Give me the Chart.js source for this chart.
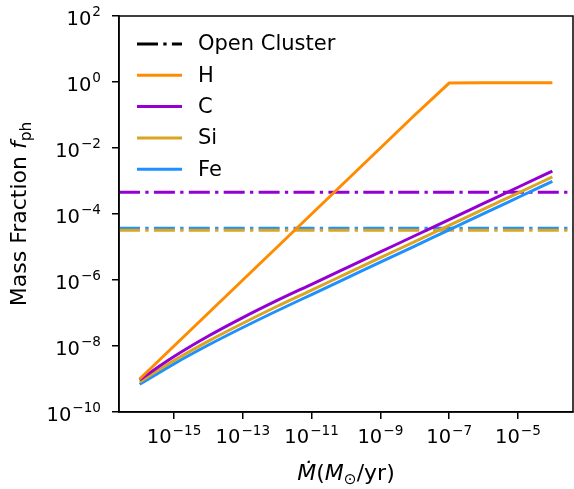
<!DOCTYPE html>
<html>
<head>
<meta charset="utf-8">
<script src="https://cdn.jsdelivr.net/npm/chart.js@4"></script>
<style>
  html, body { margin: 0; padding: 0; background: #fff; }
  #wrap { width: 574px; height: 489px; }
</style>
</head>
<body>
<div id="wrap"><canvas id="canvas" width="574" height="489"></canvas></div>
<script>
// accretion rate (Msun/yr), one point per decade
const mdot = [1e-16, 1e-15, 1e-14, 1e-13, 1e-12, 1e-11, 1e-10, 1e-9, 1e-8, 1e-7, 1e-6, 1e-5, 1e-4];

// photospheric mass fractions
const fH  = [1e-9, 1e-8, 1e-7, 1e-6, 1e-5, 1e-4, 1e-3, 1e-2, 1e-1, 0.93, 0.95, 0.95, 0.95];
const fC  = [9.5e-10, 4.79e-9, 2.0e-8, 7.24e-8, 2.4e-7, 7.41e-7, 2.29e-6, 7.08e-6, 2.19e-5, 6.76e-5, 2.09e-4, 6.46e-4, 2.0e-3];
const fSi = [8.1e-10, 3.63e-9, 1.41e-8, 4.9e-8, 1.6e-7, 4.95e-7, 1.53e-6, 4.73e-6, 1.46e-5, 4.52e-5, 1.4e-4, 4.31e-4, 1.33e-3];
const fFe = [6.9e-10, 2.88e-9, 1.07e-8, 3.63e-8, 1.17e-7, 3.63e-7, 1.12e-6, 3.47e-6, 1.07e-5, 3.31e-5, 1.02e-4, 3.16e-4, 9.8e-4];

// open cluster abundances (horizontal dash-dot lines)
const ocC  = 4.6e-4;
const ocSi = 3.2e-5;
const ocFe = 3.7e-5;

const seriesNames  = ['H', 'C', 'Si', 'Fe'];
const seriesColors = ['#ff8c00', '#9400d3', '#daa520', '#1e90ff'];

// axis limits and tick labels
const xMin = Math.pow(10, -16.6), xMax = Math.pow(10, -3.4);
const yMin = 1e-10, yMax = 1e2;
const xTickExp = [-15, -13, -11, -9, -7, -5];
const yTickExp = [-10, -8, -6, -4, -2, 0, 2];

const FONT = '"DejaVu Sans", sans-serif';
const dashDot = [21, 5.3, 3.3, 5.3];

function pts(xs, ys) { return xs.map((x, i) => ({x: x, y: ys[i]})); }
function flat(v) { return [{x: xMin, y: v}, {x: xMax, y: v}]; }

const solid = (i, ys) => ({
  label: seriesNames[i], data: pts(mdot, ys),
  borderColor: seriesColors[i], borderWidth: 3, pointRadius: 0,
  cubicInterpolationMode: i === 0 ? 'default' : 'monotone', tension: 0
});
const oc = (i, v) => ({
  label: 'Open Cluster ' + seriesNames[i], data: flat(v),
  borderColor: seriesColors[i], borderWidth: 3, pointRadius: 0,
  borderDash: dashDot, borderCapStyle: 'butt'
});

// first dataset is drawn on top
const datasets = [
  solid(0, fH), solid(1, fC), solid(2, fSi), solid(3, fFe),
  oc(1, ocC), oc(2, ocSi), oc(3, ocFe)
];

function drawPow(ctx, exp, x, y, align) {
  const base = '10', sup = exp < 0 ? '\u2212' + Math.abs(exp) : String(exp);
  ctx.font = '19.5px ' + FONT;
  const wb = ctx.measureText(base).width;
  ctx.font = '13.6px ' + FONT;
  const ws = ctx.measureText(sup).width;
  const total = wb + 1 + ws;
  let x0 = align === 'right' ? x - total : x - total / 2;
  ctx.textAlign = 'left';
  ctx.textBaseline = 'alphabetic';
  ctx.font = '19.5px ' + FONT;
  ctx.fillText(base, x0, y);
  ctx.font = '13.6px ' + FONT;
  ctx.fillText(sup, x0 + wb + 1, y - 8.5);
}

function drawRuns(ctx, runs, x, y, align) {
  // runs: [text, font, dy]
  let w = 0;
  runs.forEach(r => { ctx.font = r[1]; r.w = ctx.measureText(r[0]).width; w += r.w; });
  let cx = align === 'center' ? x - w / 2 : x;
  ctx.textAlign = 'left';
  ctx.textBaseline = 'alphabetic';
  runs.forEach(r => { ctx.font = r[1]; ctx.fillText(r[0], cx, y + r[2]); cx += r.w; });
}

const overlay = {
  id: 'overlay',
  afterDraw(chart) {
    const ctx = chart.ctx, a = chart.chartArea;
    const xs = chart.scales.x, ys = chart.scales.y;
    ctx.save();
    ctx.strokeStyle = '#000';
    ctx.lineWidth = 1.5;
    ctx.strokeRect(a.left, a.top, a.right - a.left, a.bottom - a.top);
    ctx.fillStyle = '#000';

    xTickExp.forEach(e => drawPow(ctx, e, xs.getPixelForValue(Math.pow(10, e)), 443, 'center'));
    yTickExp.forEach(e => drawPow(ctx, e, 101, ys.getPixelForValue(Math.pow(10, e)) + 8.5, 'right'));

    // x title
    drawRuns(ctx, [
      ['\u1E40', 'italic 22px ' + FONT, 0],
      ['(', '22px ' + FONT, 0],
      ['M', 'italic 22px ' + FONT, 0],
      ['\u2299', '15.4px ' + FONT, 4],
      ['/yr)', '22px ' + FONT, 0]
    ], (a.left + a.right) / 2, 480, 'center');

    // y title
    ctx.save();
    ctx.translate(26, (a.top + a.bottom) / 2);
    ctx.rotate(-Math.PI / 2);
    drawRuns(ctx, [
      ['Mass Fraction ', '22px ' + FONT, 0],
      ['f', 'italic 22px ' + FONT, 0],
      ['ph', '15.4px ' + FONT, 4.5]
    ], 0, 0, 'center');
    ctx.restore();

    // legend
    const entries = [{label: 'Open Cluster', color: '#000', dash: true}]
      .concat(seriesNames.map((n, i) => ({label: n, color: seriesColors[i], dash: false})));
    entries.forEach((en, i) => {
      const y = 44 + i * 31.3;
      ctx.beginPath();
      ctx.strokeStyle = en.color;
      ctx.lineWidth = 3;
      ctx.lineCap = 'butt';
      ctx.setLineDash(en.dash ? dashDot : []);
      ctx.moveTo(137, y);
      ctx.lineTo(182, y);
      ctx.stroke();
      ctx.setLineDash([]);
      ctx.font = '21px ' + FONT;
      ctx.textAlign = 'left';
      ctx.textBaseline = 'middle';
      ctx.fillStyle = '#000';
      ctx.fillText(en.label, 198, y + 1);
    });
    ctx.restore();
  }
};

const logAxis = (min, max, exps) => ({
  type: 'logarithmic',
  min: min, max: max,
  afterBuildTicks: s => { s.ticks = exps.map(e => ({value: Math.pow(10, e)})); },
  ticks: {display: false},
  grid: {display: true, drawOnChartArea: false, drawTicks: true, tickLength: 7, color: '#000', lineWidth: 1.5},
  border: {display: true, color: '#000', width: 1.5},
  title: {display: false}
});

window.onload = () => {
  const ctx = document.getElementById('canvas').getContext('2d');
  const xAxis = logAxis(xMin, xMax, xTickExp);
  xAxis.afterFit = s => { s.height = 77; };
  const yAxis = logAxis(yMin, yMax, yTickExp);
  yAxis.afterFit = s => { s.width = 119; };
  window.myChart = new Chart(ctx, {
    type: 'line',
    data: {datasets: datasets},
    options: {
      responsive: false,
      animation: false,
      parsing: true,
      layout: {padding: {top: 16, right: 1, left: 0, bottom: 0}},
      plugins: {legend: {display: false}, tooltip: {enabled: false}},
      scales: {x: xAxis, y: yAxis}
    },
    plugins: [overlay]
  });
};
</script>
</body>
</html>
